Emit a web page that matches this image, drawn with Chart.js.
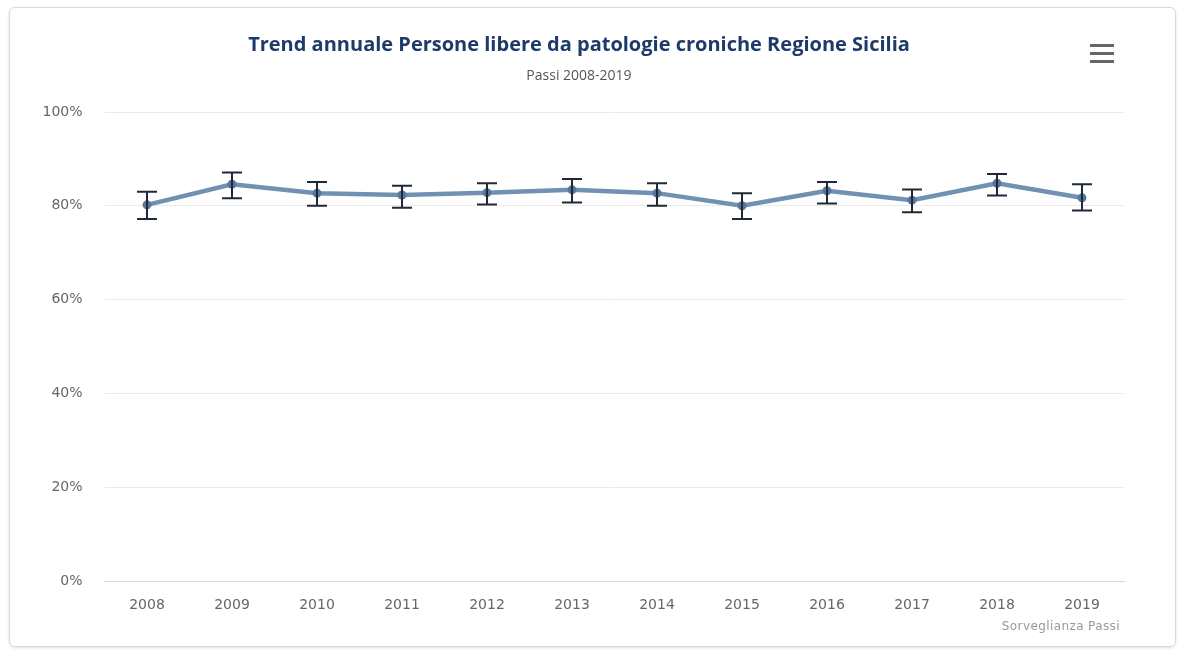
<!DOCTYPE html>
<html>
<head>
<meta charset="utf-8">
<script src="https://cdn.jsdelivr.net/npm/chart.js@4.4.1/dist/chart.umd.min.js"></script>
<style>
  html, body { margin: 0; padding: 0; background: #fff; }
  body { width: 1184px; height: 650px; position: relative; overflow: hidden; }
  .frame {
    position: absolute; left: 9px; top: 7px; width: 1165px; height: 638px;
    border: 1px solid #d9d9d9; border-radius: 6px;
    box-shadow: 0 1px 3px rgba(0,0,0,0.12);
  }
  #chart { position: absolute; left: 0; top: 0; }
  .title {
    position: absolute; left: 229px; width: 700px; top: 30px; text-align: center;
    font-family: "Open Sans", sans-serif; font-weight: bold; font-size: 20px; color: #1d3a6a;
    white-space: nowrap;
  }
  .subtitle {
    position: absolute; left: 379px; width: 400px; top: 65px; text-align: center;
    font-family: "Open Sans", sans-serif; font-size: 14px; color: #555;
  }
  .credits {
    position: absolute; right: 64px; top: 619px; letter-spacing: 0.4px;
    font-family: "DejaVu Sans", sans-serif; font-size: 12px; color: #999;
  }
  .menu { position: absolute; left: 1090px; top: 44px; width: 24px; }
  .menu div { height: 3px; background: #666; margin-bottom: 5px; }
</style>
</head>
<body>
<div class="frame"></div>
<canvas id="chart" width="1184" height="650"></canvas>
<div class="title">Trend annuale Persone libere da patologie croniche Regione Sicilia</div>
<div class="subtitle">Passi 2008-2019</div>
<div class="menu"><div></div><div></div><div></div></div>
<div class="credits">Sorveglianza Passi</div>
<script>
const years = ['2008', '2009', '2010', '2011', '2012', '2013', '2014', '2015', '2016', '2017', '2018', '2019'];
const values = [80.2, 84.6, 82.7, 82.3, 82.8, 83.4, 82.7, 80.0, 83.2, 81.2, 84.8, 81.7];
const lower = [77.2, 81.6, 80.0, 79.6, 80.3, 80.7, 80.0, 77.2, 80.5, 78.6, 82.2, 79.0];
const upper = [83.0, 87.1, 85.1, 84.3, 84.8, 85.7, 84.8, 82.7, 85.1, 83.5, 86.8, 84.6];
const yTicks = [0, 20, 40, 60, 80, 100];

// error bars drawn on top of the line
const errorBars = {
  id: 'errorBars',
  afterDatasetsDraw(chart) {
    const ctx = chart.ctx;
    const xs = chart.scales.x, ys = chart.scales.y;
    ctx.save();
    ctx.strokeStyle = '#1f2a36';
    ctx.lineWidth = 2;
    years.forEach((y, i) => {
      const x = xs.getPixelForValue(i);
      const lo = ys.getPixelForValue(lower[i]);
      const hi = ys.getPixelForValue(upper[i]);
      ctx.beginPath();
      ctx.moveTo(x, lo); ctx.lineTo(x, hi);
      ctx.moveTo(x - 10, lo); ctx.lineTo(x + 10, lo);
      ctx.moveTo(x - 10, hi); ctx.lineTo(x + 10, hi);
      ctx.stroke();
    });
    ctx.restore();
  }
};

new Chart(document.getElementById('chart'), {
  type: 'line',
  data: {
    labels: years,
    datasets: [{
      label: 'Sicilia',
      data: values,
      borderColor: '#7191b3',
      backgroundColor: '#56769a',
      borderWidth: 4.5,
      pointRadius: 4.5,
      pointBorderWidth: 0,
      tension: 0
    }]
  },
  options: {
    responsive: false,
    animation: false,
    layout: { padding: { left: 30, right: 59.5, top: 112, bottom: 29 } },
    plugins: {
      legend: { display: false },
      tooltip: { enabled: false }
    },
    scales: {
      x: {
        offset: true,
        grid: { display: false, drawTicks: false, offset: true },
        border: { color: '#d6d6d6', width: 1 },
        ticks: { padding: 16, color: '#666', font: { family: 'DejaVu Sans', size: 14 } },
        afterFit(s) { s.height = 40; }
      },
      y: {
        min: 0, max: 100,
        afterBuildTicks(s) { s.ticks = yTicks.map(v => ({ value: v })); },
        grid: { color: '#ebebeb', drawTicks: false },
        border: { display: false },
        ticks: {
          padding: 22, color: '#666', font: { family: 'DejaVu Sans', size: 14 },
          callback: v => v + '%'
        },
        afterFit(s) { s.width = 74.5; }
      }
    }
  },
  plugins: [errorBars]
});
</script>
</body>
</html>
